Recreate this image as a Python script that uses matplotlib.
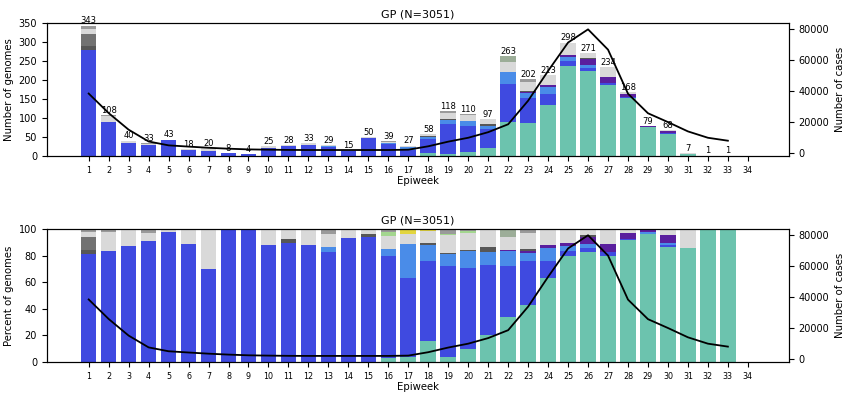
import matplotlib
matplotlib.use("Agg")
import matplotlib.pyplot as plt
import numpy as np

weeks = list(range(1, 35))

# genome counts per lineage per epiweek (week 1..34), bottom of stack first
teal = [0, 0, 0, 0, 0, 0, 0, 0, 0, 0, 0, 0, 0, 0, 0, 1, 1, 9, 4, 11, 20, 89, 86, 135, 237, 224, 187, 154, 76, 59, 6, 1, 1, 0]
blue = [279, 90, 35, 30, 42, 16, 14, 8, 4, 22, 25, 29, 24, 14, 47, 30, 16, 35, 81, 67, 51, 100, 67, 27, 12, 9, 6, 2, 0, 1, 0, 0, 0, 0]
light_blue = [0, 0, 0, 0, 0, 0, 0, 0, 0, 0, 0, 0, 1, 0, 0, 2, 7, 7, 11, 14, 9, 31, 12, 20, 11, 8, 0, 0, 1, 1, 0, 0, 0, 0]
purple = [0, 0, 0, 0, 0, 0, 0, 0, 0, 0, 0, 0, 0, 0, 0, 0, 0, 0, 0, 0, 0, 2, 4, 6, 7, 14, 15, 7, 2, 4, 0, 0, 0, 0]
dark_gray = [11, 0, 0, 0, 0, 0, 0, 0, 0, 0, 1, 0, 0, 0, 1, 0, 0, 1, 1, 1, 4, 0, 3, 0, 0, 3, 0, 0, 0, 0, 0, 0, 0, 0]
gray = [32, 0, 0, 0, 0, 0, 0, 0, 0, 0, 0, 0, 0, 0, 0, 0, 0, 0, 0, 0, 0, 0, 0, 0, 0, 0, 0, 0, 0, 0, 0, 0, 0, 0]
light_gray = [13, 16, 5, 2, 1, 2, 6, 0, 0, 3, 2, 4, 3, 1, 2, 4, 2, 5, 16, 14, 13, 26, 24, 25, 31, 13, 26, 5, 0, 3, 1, 0, 0, 0]
gray_green = [0, 0, 0, 0, 0, 0, 0, 0, 0, 0, 0, 0, 0, 0, 0, 0, 0, 0, 0, 0, 0, 15, 0, 0, 0, 0, 0, 0, 0, 0, 0, 0, 0, 0]
green = [0, 0, 0, 0, 0, 0, 0, 0, 0, 0, 0, 0, 0, 0, 0, 1, 0, 0, 1, 1, 0, 0, 0, 0, 0, 0, 0, 0, 0, 0, 0, 0, 0, 0]
mid_gray = [8, 2, 0, 1, 0, 0, 0, 0, 0, 0, 0, 0, 1, 0, 0, 1, 0, 0, 4, 2, 0, 0, 6, 0, 0, 0, 0, 0, 0, 0, 0, 0, 0, 0]
yellow = [0, 0, 0, 0, 0, 0, 0, 0, 0, 0, 0, 0, 0, 0, 0, 0, 1, 1, 0, 0, 0, 0, 0, 0, 0, 0, 0, 0, 0, 0, 0, 0, 0, 0]

# reported cases per epiweek (weeks 1..33)
case_weeks = list(range(1, 34))
cases = [38600, 26000, 15300, 7700, 5200, 4400, 3650, 3050, 2600, 2400, 2250, 2200, 2200, 2200, 2200,
         2200, 2400, 4600, 7600, 10100, 13700, 18800, 34000, 53200, 71500, 80000, 66900, 38500,
         25900, 20200, 14200, 10100, 8200]

lineages = [
    (teal, "#6cc3ae"),
    (blue, "#3f4ae0"),
    (light_blue, "#4a8ce8"),
    (purple, "#5a1f9e"),
    (dark_gray, "#575757"),
    (gray, "#727272"),
    (light_gray, "#d9d9d9"),
    (gray_green, "#9cad98"),
    (green, "#a3d68f"),
    (mid_gray, "#9a9a9a"),
    (yellow, "#e2d53e"),
]

counts = np.array([l[0] for l in lineages], dtype=float)
totals = counts.sum(axis=0)
safe = np.where(totals > 0, totals, 1)
percent = counts / safe * 100

fig, (ax1, ax2) = plt.subplots(2, 1, figsize=(8.5, 3.99), dpi=100)
fig.subplots_adjust(left=0.055, right=0.928, bottom=0.093, top=0.942, hspace=0.55)

def draw(ax, data, ylabel):
    bottom = np.zeros(len(weeks))
    for vals, (_, color) in zip(data, lineages):
        ax.bar(weeks, vals, bottom=bottom, color=color, width=0.78)
        bottom += vals
    ax.set_xlim(-1.1, 36.05)
    ax.set_xticks(weeks)
    ax.set_xticklabels([str(w) for w in weeks], fontsize=5.8)
    ax.tick_params(axis="y", labelsize=7)
    ax.set_ylabel(ylabel, fontsize=7.3, labelpad=3)
    ax.set_xlabel("Epiweek", fontsize=7.3, labelpad=1)
    ax.set_title("GP (N=3051)", fontsize=8, pad=4)
    twin = ax.twinx()
    twin.plot(case_weeks, cases, color="black", lw=1.3)
    twin.set_ylim(-1650, 84000)
    twin.set_yticks([0, 20000, 40000, 60000, 80000])
    twin.tick_params(axis="y", labelsize=7)
    twin.set_ylabel("Number of cases", fontsize=7.3, labelpad=4)
    return twin

draw(ax1, counts, "Number of genomes")
ax1.set_ylim(0, 350)
ax1.set_yticks(range(0, 351, 50))
for w, t in zip(weeks, totals):
    if t > 0:
        ax1.text(w, t + 1, str(int(t)), ha="center", va="bottom", fontsize=6)

draw(ax2, percent, "Percent of genomes")
ax2.set_ylim(0, 100)
ax2.set_yticks(range(0, 101, 20))

fig.savefig("out.png", dpi=100)
